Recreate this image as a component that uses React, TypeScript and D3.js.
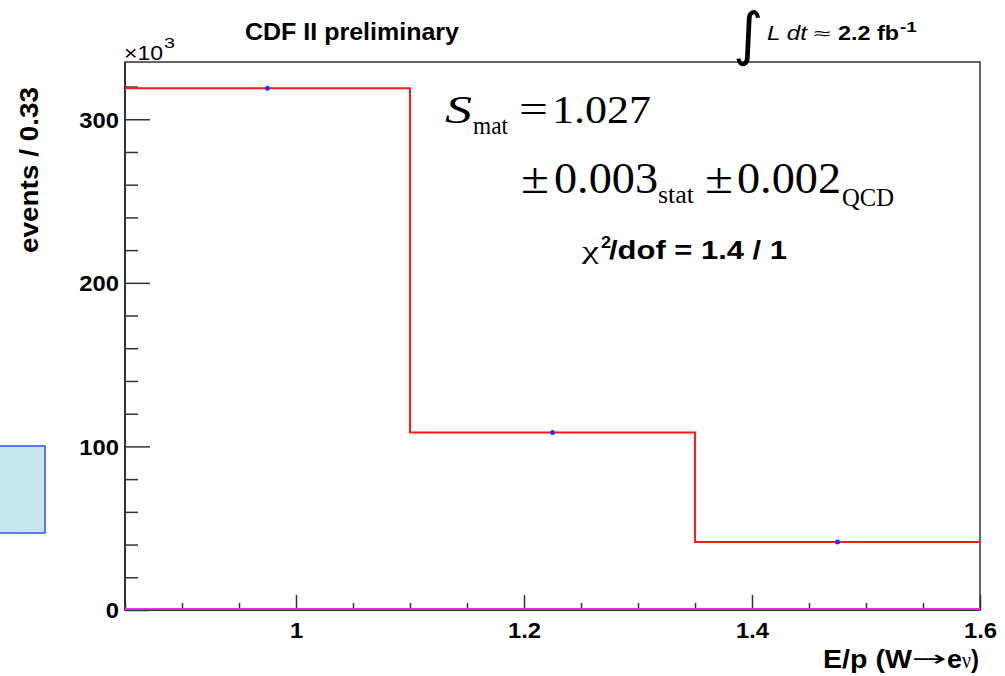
import React, { useRef, useEffect } from 'react';
import * as d3 from 'd3';

// histogram of E/p, counts in units of 10^3
const binEdges = [0.85, 1.1, 1.35, 1.6];
const binCounts = [319, 108.5, 41.6];
const pointX = [0.975, 1.225, 1.475];
const xMajorTicks = [1, 1.2, 1.4, 1.6];
const yMajorTicks = [0, 100, 200, 300];

const width = 1005;
const height = 676;
const frame = { left: 125, right: 980, top: 62, bottom: 610 };
const sans = '"Liberation Sans", Arial, sans-serif';
const serif = '"Liberation Serif", "Times New Roman", serif';
const stretch = 1.08;

type Sel = d3.Selection<SVGSVGElement, unknown, null, undefined>;

// text piece with its width forced to what the reference shows
const piece = (svg: Sel, txt: string, px: number, py: number, size: number, len: number, opts: Record<string, string> = {}) => {
  const t = svg.append('text')
    .attr('x', px).attr('y', py)
    .attr('font-size', size)
    .attr('font-family', opts.family || serif)
    .attr('textLength', len)
    .attr('lengthAdjust', 'spacingAndGlyphs')
    .text(txt);
  if (opts.weight) t.attr('font-weight', opts.weight);
  if (opts.style) t.attr('font-style', opts.style);
  if (opts.anchor) t.attr('text-anchor', opts.anchor);
  return t;
};

const App: React.FC = () => {
  const svgRef = useRef<SVGSVGElement | null>(null);

  useEffect(() => {
    if (!svgRef.current) return;
    const svg = d3.select(svgRef.current);
    svg.selectAll('*').remove();

    const x = d3.scaleLinear().domain([0.85, 1.6]).range([frame.left, frame.right]);
    const y = d3.scaleLinear().domain([0, 335]).range([frame.bottom, frame.top]);

    // leftover box at the left edge
    svg.append('rect')
      .attr('x', -2).attr('y', 446).attr('width', 47).attr('height', 87)
      .attr('fill', '#c6e6e9').attr('stroke', '#2a52ff').attr('stroke-width', 1.5);

    // frame
    svg.append('rect')
      .attr('x', frame.left).attr('y', frame.top)
      .attr('width', frame.right - frame.left).attr('height', frame.bottom - frame.top)
      .attr('fill', 'none').attr('stroke', '#333').attr('stroke-width', 1.5);

    const styleTicks = (g: d3.Selection<SVGGElement, unknown, null, undefined>) => {
      g.select('.domain').remove();
      g.selectAll('line').attr('stroke', '#333').attr('stroke-width', 1.5);
    };

    // minor ticks
    const xMinor = d3.range(0.85, 1.6001, 0.05).filter((v) => !xMajorTicks.some((m) => Math.abs(m - v) < 1e-6));
    svg.append('g')
      .attr('transform', `translate(0,${frame.bottom})`)
      .call(d3.axisBottom(x).tickValues(xMinor).tickSize(-7).tickFormat(() => ''))
      .call(styleTicks);
    const yMinor = d3.range(0, 335, 20).filter((v) => v % 100 !== 0);
    svg.append('g')
      .attr('transform', `translate(${frame.left},0)`)
      .call(d3.axisLeft(y).tickValues(yMinor).tickSize(-13).tickFormat(() => ''))
      .call(styleTicks);

    // major ticks + labels
    const fixLabels = (g: d3.Selection<SVGGElement, unknown, null, undefined>) => {
      g.selectAll<SVGTextElement, unknown>('text')
        .attr('font-family', sans).attr('font-weight', 'bold').attr('font-size', 22).attr('fill', '#000')
        .each(function () {
          const w = this.getComputedTextLength();
          d3.select(this).attr('textLength', w * stretch).attr('lengthAdjust', 'spacingAndGlyphs');
        });
    };
    svg.append('g')
      .attr('transform', `translate(0,${frame.bottom})`)
      .call(d3.axisBottom(x).tickValues(xMajorTicks).tickSize(-15).tickPadding(0).tickFormat(d3.format('')))
      .call(styleTicks)
      .call((g) => g.selectAll('text').attr('y', 28).attr('dy', 0))
      .call(fixLabels);
    svg.append('g')
      .attr('transform', `translate(${frame.left},0)`)
      .call(d3.axisLeft(y).tickValues(yMajorTicks).tickSize(-25).tickPadding(6).tickFormat(d3.format('')))
      .call(styleTicks)
      .call((g) => g.selectAll('text').attr('dy', '0.36em'))
      .call(fixLabels);

    // axis lines (thicker)
    svg.append('line')
      .attr('x1', frame.left).attr('x2', frame.left).attr('y1', frame.top).attr('y2', frame.bottom)
      .attr('stroke', '#333').attr('stroke-width', 2);
    svg.append('line')
      .attr('x1', frame.left).attr('x2', frame.right).attr('y1', frame.bottom).attr('y2', frame.bottom)
      .attr('stroke', '#333').attr('stroke-width', 2);

    // background fit along zero
    svg.append('line')
      .attr('x1', x(0.85)).attr('x2', x(1.6)).attr('y1', y(0) - 1).attr('y2', y(0) - 1)
      .attr('stroke', '#ff22ff').attr('stroke-width', 2);

    // histogram steps
    const stepPts: [number, number][] = [];
    binCounts.forEach((c, i) => {
      stepPts.push([x(binEdges[i]), y(c)]);
      stepPts.push([x(binEdges[i + 1]), y(c)]);
    });
    svg.append('path')
      .attr('d', d3.line()(stepPts))
      .attr('fill', 'none').attr('stroke', '#ff1a1a').attr('stroke-width', 2);

    // data points
    svg.selectAll('circle.pt')
      .data(pointX)
      .enter().append('circle')
      .attr('class', 'pt')
      .attr('cx', (d) => x(d))
      .attr('cy', (d, i) => y(binCounts[i]))
      .attr('r', 2.5)
      .attr('fill', '#2233ff');

    // titles
    piece(svg, 'CDF II preliminary', 245, 40, 23, 214, { family: sans, weight: 'bold' });
    piece(svg, '×10', 124, 60, 20, 39, { family: sans });
    piece(svg, '3', 164, 48, 15, 11, { family: sans });

    svg.append('text')
      .attr('x', 733).attr('y', 54)
      .attr('font-family', '"DejaVu Sans", sans-serif').attr('font-size', 58)
      .text('∫');
    piece(svg, 'L dt', 767, 40, 21, 40, { family: sans, style: 'italic' });
    piece(svg, '≈', 814, 39, 16, 17, { family: sans });
    piece(svg, '2.2 fb', 838, 40, 21, 61, { family: sans, weight: 'bold' });
    piece(svg, '-1', 900, 32, 14, 17, { family: sans, weight: 'bold' });

    svg.append('text')
      .attr('transform', 'translate(38,87) rotate(-90)')
      .attr('text-anchor', 'end')
      .attr('font-family', sans).attr('font-weight', 'bold').attr('font-size', 25)
      .attr('textLength', 166).attr('lengthAdjust', 'spacingAndGlyphs')
      .text('events / 0.33');

    piece(svg, 'E/p (W', 823, 668, 26, 89, { family: sans, weight: 'bold' });
    piece(svg, '→', 912, 666, 22, 35, { family: '"DejaVu Sans", sans-serif' });
    piece(svg, 'e', 947, 668, 26, 15, { family: sans, weight: 'bold' });
    piece(svg, 'ν', 962, 668, 24, 9, { family: serif });
    piece(svg, ')', 971, 668, 26, 8, { family: sans, weight: 'bold' });

    // fit result
    piece(svg, 'S', 445, 123, 40, 27, { style: 'italic' });
    piece(svg, 'mat', 473, 134, 26, 35);
    piece(svg, '=', 519, 123, 40, 29);
    piece(svg, '1.027', 552, 123, 40, 99);

    piece(svg, '±', 521, 193, 44, 28);
    piece(svg, '0.003', 554, 193, 44, 104);
    piece(svg, 'stat', 658, 203, 26, 36);
    piece(svg, '±', 705, 193, 44, 28);
    piece(svg, '0.002', 737, 193, 44, 104);
    piece(svg, 'QCD', 842, 206, 26, 52);

    piece(svg, 'χ', 582, 259, 26, 17);
    piece(svg, '2', 601, 248, 17, 10, { family: sans, weight: 'bold' });
    piece(svg, '/dof = 1.4 / 1', 609, 259, 25, 178, { family: sans, weight: 'bold' });
  }, []);

  return (
    <svg
      ref={svgRef}
      width={width}
      height={height}
      style={{ position: 'absolute', left: 0, top: 0, background: '#fff' }}
    />
  );
};

export default App;
